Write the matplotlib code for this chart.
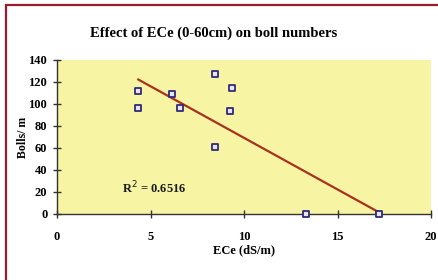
import matplotlib
matplotlib.use("Agg")
import matplotlib.pyplot as plt
import numpy as np
from matplotlib.patches import Rectangle

# Data
ece = [4.35, 4.35, 6.15, 6.6, 8.45, 8.45, 9.25, 9.35, 13.3, 17.2]
bolls = [112, 96, 109, 96, 127, 61, 94, 115, 0, 0]
r2_label = "R$^2$ = 0.6516"
title = "Effect of ECe (0-60cm) on boll numbers"
xlabel = "ECe (dS/m)"
ylabel = "Bolls/ m"
xticks = [0, 5, 10, 15, 20]
yticks = [0, 20, 40, 60, 80, 100, 120, 140]

plt.rcParams['font.family'] = ['Liberation Serif', 'DejaVu Serif']

fig = plt.figure(figsize=(4.39, 2.80), dpi=100)
fig.patch.set_facecolor('white')

# outer dark-red frame (top and left visible)
W, H = 439, 280
fig.patches.append(Rectangle((6 / W, -0.2), 1.2, 1 - 5 / H + 0.2,
                             transform=fig.transFigure, fill=False,
                             edgecolor='#9B1B30', linewidth=1.6, zorder=0))

ax = fig.add_axes([57 / W, 1 - 214 / H, (431 - 57) / W, (214 - 60) / H])
ax.set_facecolor('#F7F4A4')
ax.set_xlim(0, 20)
ax.set_ylim(0, 140)

x = np.array(ece)
y = np.array(bolls)
m, b = np.polyfit(x, y, 1)
xl = np.array([x.min(), x.max()])
ax.plot(xl, m * xl + b, color='#A8321E', linewidth=1.6, zorder=2)

ax.scatter(x, y, marker='s', s=14, facecolor='#E8E4F0', edgecolor='#2E2A7A',
           linewidth=1.3, zorder=3, clip_on=False)

ax.text(3.45, 24, r2_label, fontsize=9, fontweight='bold', color='#1a1a1a',
        va='center', ha='left')

for s in ['top', 'right']:
    ax.spines[s].set_visible(False)
for s in ['left', 'bottom']:
    ax.spines[s].set_color('#333333')
    ax.spines[s].set_linewidth(1.0)

ax.set_xticks(xticks)
ax.set_yticks(yticks)
ax.tick_params(axis='both', direction='inout', length=6, width=1.0,
               color='#333333', labelsize=9)
ax.tick_params(axis='x', pad=9)
ax.tick_params(axis='y', pad=4)
for lab in ax.get_xticklabels() + ax.get_yticklabels():
    lab.set_fontweight('bold')

ax.set_xlabel(xlabel, fontsize=9, fontweight='bold', labelpad=1)
ax.set_ylabel(ylabel, fontsize=8.5, fontweight='bold')
ax.yaxis.set_label_coords(-0.075, 0.5)

fig.text(214 / W, 1 - 33 / H, title, fontsize=10.5, fontweight='bold',
         ha='center', va='center')

fig.savefig('out.png', dpi=100)
